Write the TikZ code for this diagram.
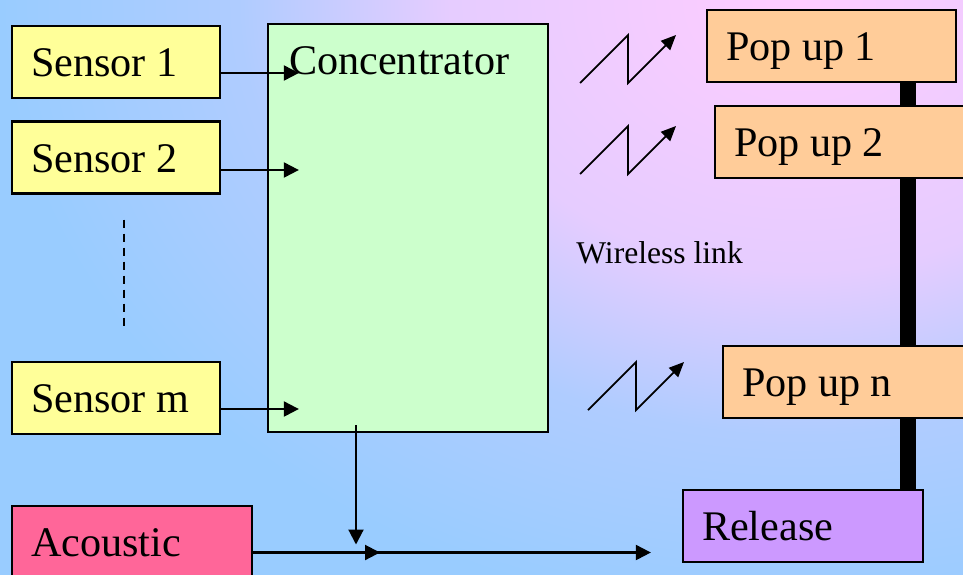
\documentclass[tikz,border=0pt]{standalone}
\usepackage{fontspec}
\setmainfont{Liberation Serif}
\usetikzlibrary{arrows.meta,positioning,calc,backgrounds}
\definecolor{Sky}{HTML}{99CCFF}
\definecolor{Blush}{HTML}{FFCCFF}
\definecolor{Lemon}{HTML}{FFFF99}
\definecolor{Mint}{HTML}{CCFFCC}
\definecolor{Peach}{HTML}{FFCC99}
\definecolor{Lilac}{HTML}{CC99FF}
\definecolor{Rose}{HTML}{FF6699}
\pgfdeclareradialshading{glow}{\pgfpoint{0bp}{0bp}}{color(0bp)=(Blush);
  color(11bp)=(Blush!75!Sky); color(17.5bp)=(Blush!22!Sky); color(25bp)=(Sky); color(50bp)=(Sky)}

\begin{document}
\begin{tikzpicture}
    \tikzset{block/.style={draw=black,line width=1.3pt,minimum height=1.44cm,
      inner xsep=0.38cm,text width=#1,align=flush left,text height=0.58cm,text depth=0pt,
      font=\fontsize{24}{28}\selectfont},
      feed/.style={line width=1.2pt,-{Triangle[length=0.3cm,width=0.3cm]}},
      link/.style={line width=1pt,-{Triangle[length=0.3cm,width=0.26cm]}},
      bus/.style={line width=0.32cm}}
    \useasboundingbox (0,0) rectangle (19.26,-11.48);

    % Sensors
    \foreach \y/\id/\txt in {-1.24/s1/Sensor 1,-3.15/s2/Sensor 2,-7.96/sm/Sensor m}{
      \node[block=3.40cm,fill=Lemon] (\id) at (2.32,\y) {\txt};
    }
    \draw[line width=0.8pt,dash pattern=on 0.16cm off 0.12cm]
      ([xshift=0.16cm,yshift=-0.5cm]s2.south) -- ([xshift=0.16cm,yshift=0.6cm]sm.north);
    \node[block=4.04cm,fill=Rose] (acoustic) at (2.64,-10.84) {Acoustic};

    % Concentrator
    \node[draw=black,line width=1.3pt,fill=Mint,minimum width=5.6cm,minimum height=8.16cm] (conc) at (8.16,-4.56) {};
    \node[anchor=west,inner sep=0pt,font=\fontsize{24}{28}\selectfont] (conctitle)
      at ($(conc.north west)+(0.44,-0.76)$) {Concentrator};

    % Pop ups + release
    \foreach \x/\y/\id/\txt in {16.63/-0.92/p1/Pop up 1,16.79/-2.84/p2/Pop up 2,16.95/-7.64/pn/Pop up n}{
      \node[block=4.22cm,fill=Peach] (\id) at (\x,\y) {\txt};
    }
    \node[block=4.04cm,fill=Lilac] (release) at (16.06,-10.52) {Release};

    % Background + cable
    \begin{scope}[on background layer]
      \fill[Sky] (-0.2,0.2) rectangle (19.46,-11.68);
      \begin{scope}
        \clip (-0.2,0.2) rectangle (19.46,-11.68);
        \shade[shading=glow] (16,0) ellipse (16cm and 12.4cm);
      \end{scope}
      \draw[bus] ([xshift=1.53cm]p1.south) -- ([xshift=1.53cm]p1.south |- release.north);
    \end{scope}

    % Wireless link
    \foreach \x/\y in {11.60/-1.66,11.60/-3.48,11.76/-8.20}{
      \draw[link] (\x,\y) -- ++(0.96,0.96) -- ++(0,-0.96) -- ++(0.96,0.96);
    }
    \node[anchor=west,inner sep=0pt,font=\fontsize{18}{22}\selectfont] (wl) at (11.52,-5.06) {Wireless link};

    % Arrows
    \draw[feed] ([yshift=-0.22cm]s1.east) -- ($(s1.east -| conc.west)+(0.64,-0.22)$);
    \draw[feed] ([yshift=-0.25cm]s2.east) -- ($(s2.east -| conc.west)+(0.64,-0.25)$);
    \draw[feed] ([yshift=-0.22cm]sm.east) -- ($(sm.east -| conc.west)+(0.64,-0.22)$);
    \coordinate (merge) at (7.12,-11.05);
    \draw[feed] ($(conc.south -| merge)+(0,0.16)$) -- ($(merge)+(0,0.16)$);
    \draw[feed] (acoustic.east |- merge) -- ($(merge)+(0.48,0)$);
    \draw[feed] (merge) -- ($(merge -| release.west)+(-0.62,0)$);
  \end{tikzpicture}
\end{document}
